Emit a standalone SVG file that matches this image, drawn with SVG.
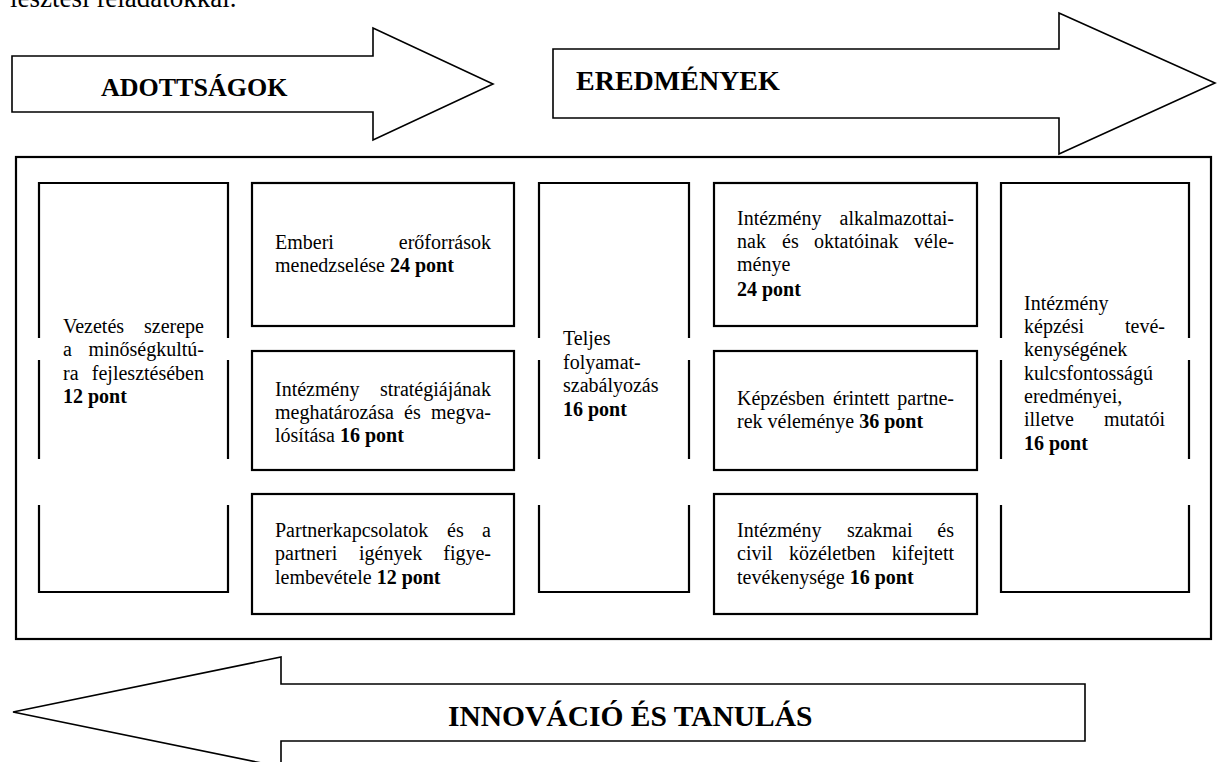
<svg xmlns="http://www.w3.org/2000/svg" width="1218" height="762" viewBox="0 0 1218 762">
<style>
  .bg{fill:#fff}
  .arrow{fill:#fff;stroke:#000;stroke-width:1.6;stroke-linejoin:miter}
  .frame{fill:none;stroke:#000;stroke-width:2.2}
  .box{fill:#fff;stroke:#000;stroke-width:2.2}
  .open{fill:none;stroke:#000;stroke-width:2.2}
  text{font-family:'Liberation Serif','Times New Roman','DejaVu Serif',serif;fill:#000}
  .t{font-size:20px}
  .b{font-weight:bold}
  .end{text-anchor:end}
  .h{font-weight:bold}
</style>
<rect class="bg" x="0" y="0" width="1218" height="762"/>
<g font-family="Liberation Serif, Times New Roman, serif">
<text x="10" y="7" style="font-size:27px">lesztési feladatokkal.</text>

<g id="arrow-adottsagok">
  <polygon class="arrow" points="12,56 373,56 373,28 493,84 373,140 373,112 12,112"/>
  <text class="h" x="101" y="96" style="font-size:26px">ADOTTSÁGOK</text>
</g>
<g id="arrow-eredmenyek">
  <polygon class="arrow" points="553,49 1059,49 1059,13 1215,83 1059,154 1059,118 553,118"/>
  <text class="h" x="576" y="90" style="font-size:28px">EREDMÉNYEK</text>
</g>
<g id="arrow-innovacio">
  <polygon class="arrow" points="1085,684 281,684 281,657 13,712 281,767 281,741 1085,741"/>
  <text class="h" x="448" y="726" style="font-size:29.5px">INNOVÁCIÓ ÉS TANULÁS</text>
</g>

<g id="frame">
  <rect class="frame" x="16" y="157" width="1195" height="482"/>
</g>

<g id="connectors"></g>

<g id="vezetes">
  <path class="open" d="M39,338 V183 H228 V338 M39,360 V459 M228,360 V459 M39,505 V592 H228 V505"/>
  <text class="t"><tspan x="63" y="333">Vezetés</tspan><tspan class="end" x="204" y="333">szerepe</tspan></text>
  <text class="t"><tspan x="63" y="356">a</tspan><tspan class="end" x="204" y="356">minőségkultú-</tspan></text>
  <text class="t"><tspan x="63" y="380">ra</tspan><tspan class="end" x="204" y="380">fejlesztésében</tspan></text>
  <text class="t b" x="63" y="403">12 pont</text>
</g>

<g id="emberi">
  <rect class="box" x="252" y="183" width="262" height="143"/>
  <text class="t"><tspan x="275" y="249">Emberi</tspan><tspan class="end" x="491" y="249">erőforrások</tspan></text>
  <text class="t" x="275" y="272">menedzselése <tspan class="b">24 pont</tspan></text>
</g>

<g id="strategia">
  <rect class="box" x="252" y="351" width="262" height="119"/>
  <text class="t"><tspan x="275" y="396">Intézmény</tspan><tspan class="end" x="491" y="396">stratégiájának</tspan></text>
  <text class="t"><tspan x="275" y="419">meghatározása</tspan><tspan x="404" y="419">és</tspan><tspan class="end" x="491" y="419">megva-</tspan></text>
  <text class="t" x="275" y="442">lósítása <tspan class="b">16 pont</tspan></text>
</g>

<g id="partner">
  <rect class="box" x="252" y="494" width="262" height="120"/>
  <text class="t"><tspan x="275" y="537">Partnerkapcsolatok</tspan><tspan x="447" y="537">és</tspan><tspan class="end" x="491" y="537">a</tspan></text>
  <text class="t"><tspan x="275" y="560">partneri</tspan><tspan x="359" y="560">igények</tspan><tspan class="end" x="491" y="560">figye-</tspan></text>
  <text class="t" x="275" y="584">lembevétele <tspan class="b">12 pont</tspan></text>
</g>

<g id="folyamat">
  <path class="open" d="M539,338 V183 H689 V338 M539,360 V459 M689,360 V459 M539,505 V592 H689 V505"/>
  <text class="t" x="563" y="345">Teljes</text>
  <text class="t" x="563" y="369">folyamat-</text>
  <text class="t" x="563" y="392">szabályozás</text>
  <text class="t b" x="563" y="416">16 pont</text>
</g>

<g id="alkalmazottak">
  <rect class="box" x="714" y="183" width="263" height="143"/>
  <text class="t"><tspan x="737" y="225">Intézmény</tspan><tspan class="end" x="954" y="225">alkalmazottai-</tspan></text>
  <text class="t"><tspan x="737" y="248">nak</tspan><tspan x="782" y="248">és</tspan><tspan x="814" y="248">oktatóinak</tspan><tspan class="end" x="954" y="248">véle-</tspan></text>
  <text class="t" x="737" y="271">ménye</text>
  <text class="t b" x="737" y="296">24 pont</text>
</g>

<g id="kepzes-partnerek">
  <rect class="box" x="714" y="351" width="263" height="119"/>
  <text class="t"><tspan x="737" y="405">Képzésben</tspan><tspan x="833" y="405">érintett</tspan><tspan class="end" x="954" y="405">partne-</tspan></text>
  <text class="t" x="737" y="428">rek véleménye <tspan class="b">36 pont</tspan></text>
</g>

<g id="kozelet">
  <rect class="box" x="714" y="494" width="263" height="120"/>
  <text class="t"><tspan x="737" y="537">Intézmény</tspan><tspan x="847" y="537">szakmai</tspan><tspan class="end" x="954" y="537">és</tspan></text>
  <text class="t"><tspan x="737" y="560">civil</tspan><tspan x="789" y="560">közéletben</tspan><tspan class="end" x="954" y="560">kifejtett</tspan></text>
  <text class="t" x="737" y="584">tevékenysége <tspan class="b">16 pont</tspan></text>
</g>

<g id="eredmenyek-mutatok">
  <path class="open" d="M1001,338 V183 H1189 V338 M1001,360 V459 M1189,360 V459 M1001,505 V592 H1189 V505"/>
  <text class="t" x="1024" y="310">Intézmény</text>
  <text class="t"><tspan x="1024" y="333">képzési</tspan><tspan class="end" x="1165" y="333">tevé-</tspan></text>
  <text class="t" x="1024" y="356">kenységének</text>
  <text class="t" x="1024" y="380">kulcsfontosságú</text>
  <text class="t" x="1024" y="403">eredményei,</text>
  <text class="t"><tspan x="1024" y="426">illetve</tspan><tspan class="end" x="1165" y="426">mutatói</tspan></text>
  <text class="t b" x="1024" y="450">16 pont</text>
</g>
</g>
</svg>
